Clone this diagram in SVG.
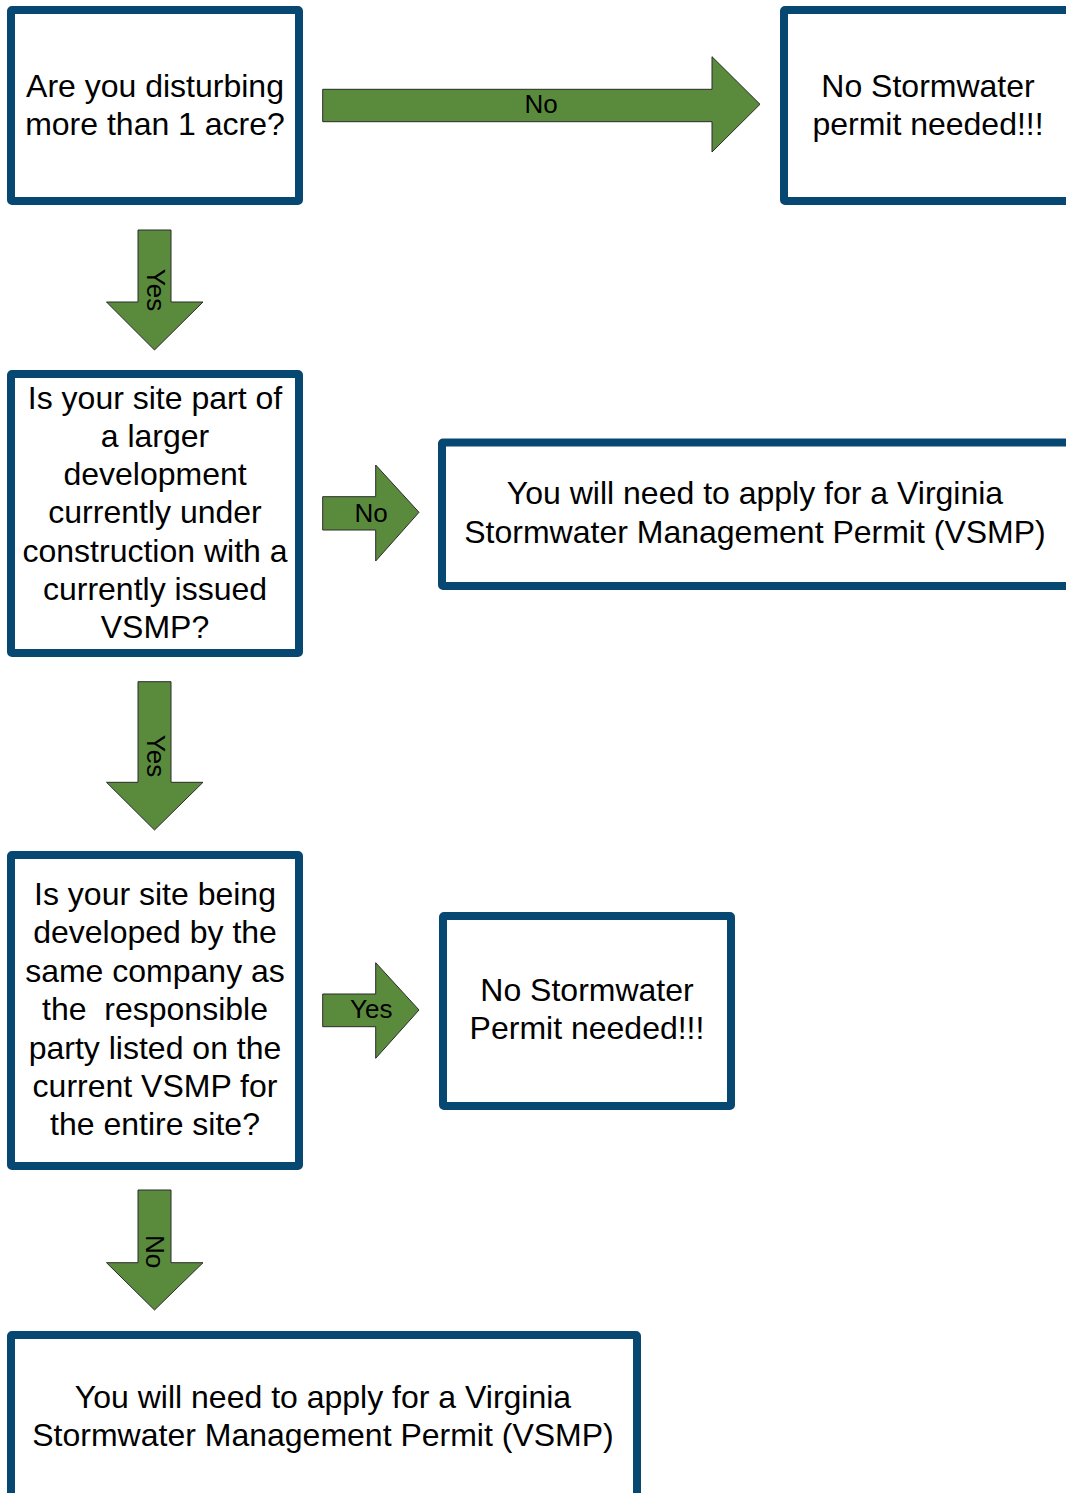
<svg xmlns="http://www.w3.org/2000/svg" width="1066" height="1493" viewBox="0 0 1066 1493">
<style>
.box{fill:#fff;stroke:#074873;stroke-width:8;stroke-linejoin:round}
.arr{fill:#5a8b3d;stroke:#2a2a2a;stroke-width:1}
.t{font-family:"Liberation Sans",Arial,sans-serif;font-size:32px;fill:#000;text-anchor:middle}
.l{font-family:"Liberation Sans",Arial,sans-serif;font-size:26px;fill:#000;text-anchor:middle}
</style>
<rect width="1066" height="1493" fill="#fff"/>
<g id="connectors">
<g id="arrow-no-1"><path class="arr" d="M322.7,89.3 H712 V56.7 L760,104.3 L712,152 V121.7 H322.7 Z"/><text class="l" x="541" y="113">No</text></g>
<g id="arrow-yes-1"><path class="arr" d="M138,230 H171 V302 H203 L154.5,350 L106.5,302 H138 Z"/><text class="l" transform="translate(146.5,290) rotate(90)" x="0" y="0">Yes</text></g>
<g id="arrow-no-2"><path class="arr" d="M322.7,496.7 H375.7 V465 L419,512.3 L375.7,561 V530 H322.7 Z"/><text class="l" x="371" y="521.7">No</text></g>
<g id="arrow-yes-2"><path class="arr" d="M138,681.7 H171 V782.3 H203 L154.5,830 L106.5,782.3 H138 Z"/><text class="l" transform="translate(146.5,756) rotate(90)" x="0" y="0">Yes</text></g>
<g id="arrow-yes-3"><path class="arr" d="M322.7,994 H375.7 V962.7 L419,1010 L375.7,1058.3 V1026.7 H322.7 Z"/><text class="l" x="371.3" y="1018.3">Yes</text></g>
<g id="arrow-no-3"><path class="arr" d="M138,1190 H171 V1262.7 H203 L154.5,1310 L106.5,1262.7 H138 Z"/><text class="l" transform="translate(146,1251.5) rotate(90)" x="0" y="0">No</text></g>
</g>
<g id="q1"><rect class="box" x="11" y="10" width="288" height="191" rx="1"/>
<text class="t" x="155" y="96.5">Are you disturbing</text>
<text class="t" x="155" y="135">more than 1 acre?</text></g>
<g id="r1"><rect class="box" x="784" y="10" width="288" height="191" rx="1"/>
<text class="t" x="928" y="96.5">No Stormwater</text>
<text class="t" x="928" y="135">permit needed!!!</text></g>
<g id="q2"><rect class="box" x="11" y="374" width="288" height="279" rx="1"/>
<text class="t" x="155" y="408.5">Is your site part of</text>
<text class="t" x="155" y="446.8">a larger</text>
<text class="t" x="155" y="485.1">development</text>
<text class="t" x="155" y="523.4">currently under</text>
<text class="t" x="155" y="561.7">construction with a</text>
<text class="t" x="155" y="600">currently issued</text>
<text class="t" x="155" y="638.3">VSMP?</text></g>
<g id="r2"><rect class="box" x="442" y="442.5" width="628" height="143.5" rx="1"/>
<text class="t" x="755" y="504">You will need to apply for a Virginia</text>
<text class="t" x="755" y="542.5">Stormwater Management Permit (VSMP)</text></g>
<g id="q3"><rect class="box" x="11" y="855" width="288" height="311" rx="1"/>
<text class="t" x="155" y="905">Is your site being</text>
<text class="t" x="155" y="943.4">developed by the</text>
<text class="t" x="155" y="981.8">same company as</text>
<text class="t" x="155" y="1020.2" xml:space="preserve" style="white-space:pre">the  responsible</text>
<text class="t" x="155" y="1058.6">party listed on the</text>
<text class="t" x="155" y="1097">current VSMP for</text>
<text class="t" x="155" y="1135.4">the entire site?</text></g>
<g id="r3"><rect class="box" x="443" y="916" width="288" height="190" rx="1"/>
<text class="t" x="587" y="1000.5">No Stormwater</text>
<text class="t" x="587" y="1038.8">Permit needed!!!</text></g>
<g id="r4"><rect class="box" x="11" y="1335" width="626" height="162" rx="1"/>
<text class="t" x="323" y="1407.5">You will need to apply for a Virginia</text>
<text class="t" x="323" y="1445.5">Stormwater Management Permit (VSMP)</text></g>
</svg>
